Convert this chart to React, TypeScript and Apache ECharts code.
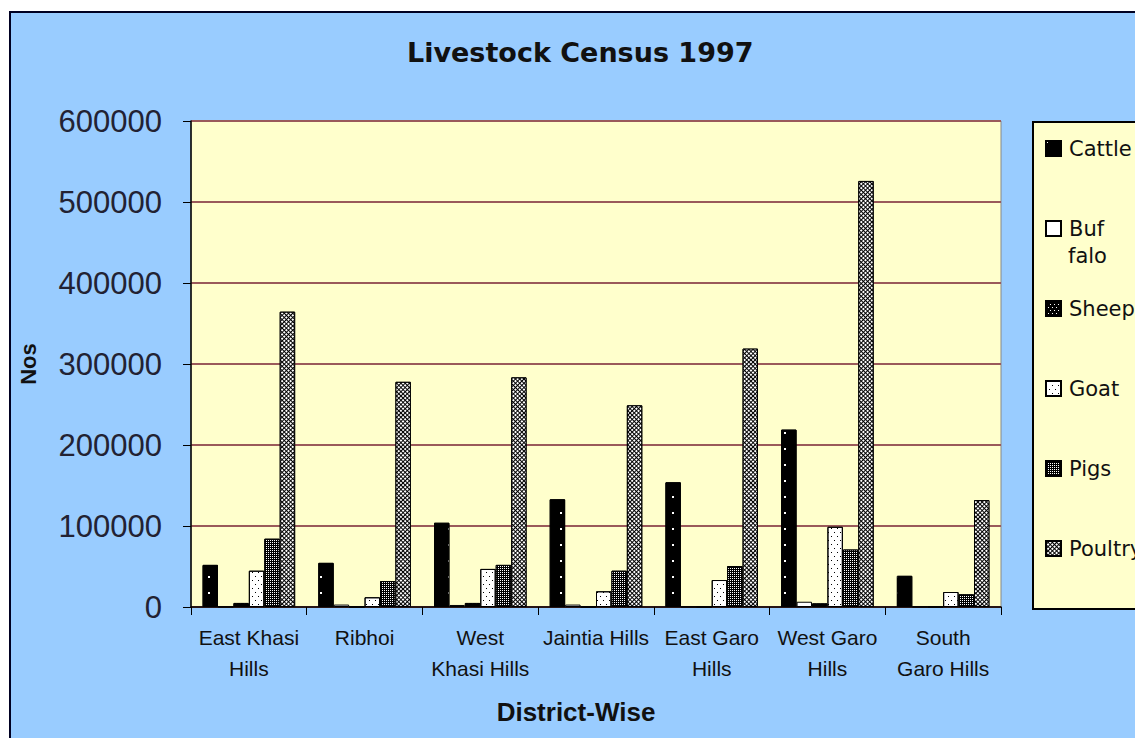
import React, { useEffect, useRef } from "react";
import * as echarts from "echarts";

const districts = [
  "East Khasi\nHills",
  "Ribhoi",
  "West\nKhasi Hills",
  "Jaintia Hills",
  "East Garo\nHills",
  "West Garo\nHills",
  "South\nGaro Hills",
];
const seriesNames = ["Cattle", "Buffalo", "Sheep", "Goat", "Pigs", "Poultry"];
const cattle = [52000, 54500, 104000, 133000, 154000, 219000, 38500];
const buffalo = [300, 3000, 2500, 3000, 300, 6500, 300];
const sheep = [5000, 300, 5000, 300, 300, 4500, 300];
const goat = [44800, 12000, 47000, 19400, 33300, 99000, 18500];
const pigs = [84300, 32000, 52000, 44800, 50600, 71000, 15700];
const poultry = [364600, 278000, 283500, 249000, 319000, 526000, 132000];
const yMin = 0;
const yMax = 600000;
const yStep = 100000;

const seriesData = [cattle, buffalo, sheep, goat, pigs, poultry];

const decals: any[] = [
  { symbol: "rect", symbolSize: 1, color: "#ffffff", dashArrayX: [2, 14], dashArrayY: [2, 14], rotation: 0 },
  null,
  { symbol: "rect", symbolSize: 1, color: "#ffffff", dashArrayX: [[1, 3], [0, 2, 1, 1]], dashArrayY: [1, 2], rotation: 0 },
  { symbol: "rect", symbolSize: 1, color: "#000000", dashArrayX: [[1, 5], [0, 3, 1, 2]], dashArrayY: [1, 3], rotation: 0 },
  { symbol: "rect", symbolSize: 1, color: "#ffffff", dashArrayX: [1, 1], dashArrayY: [1, 1], rotation: 0 },
  { symbol: "rect", symbolSize: 1, color: "#ffffff", dashArrayX: [2, 1], dashArrayY: [2, 1], rotation: Math.PI / 4 },
];
const baseColors = ["#000000", "#ffffff", "#000000", "#ffffff", "#000000", "#000000"];

export default function App() {
  const ref = useRef<HTMLDivElement>(null);
  useEffect(() => {
    if (!ref.current) return;
    const chart = echarts.init(ref.current, undefined, { renderer: "svg" });
    const series = seriesNames.map((name, i) => ({
      name,
      type: "bar",
      data: seriesData[i],
      barGap: "0%",
      barCategoryGap: "20%",
      itemStyle: {
        color: baseColors[i],
        borderColor: "#000000",
        borderWidth: 1,
        ...(decals[i] ? { decal: decals[i] } : {}),
      },
    }));
    chart.setOption({
      animation: false,
      backgroundColor: "#99CCFF",
      title: {
        text: "Livestock Census 1997",
        left: 402,
        top: 34,
        textStyle: { fontFamily: "DejaVu Sans", fontSize: 27, fontWeight: "bold", color: "#111" },
      },
      legend: {
        orient: "vertical",
        left: 1045,
        top: 138,
        padding: 0,
        icon: "rect",
        itemWidth: 15,
        itemHeight: 15,
        itemGap: 59,
        data: seriesNames,
        formatter: (n: string) => (n === "Buffalo" ? "Buf" : n),
        textStyle: { fontFamily: "DejaVu Sans", fontSize: 21, lineHeight: 15, color: "#111", padding: [0, 0, 0, 3] },
      },
      grid: {
        left: 191,
        top: 121,
        width: 810,
        height: 486,
        show: true,
        backgroundColor: "#FFFFCC",
        borderColor: "#888888",
        borderWidth: 1,
      },
      xAxis: {
        type: "category",
        data: districts,
        name: "District-Wise",
        nameLocation: "middle",
        nameGap: 92,
        nameTextStyle: { fontFamily: "Liberation Sans", fontSize: 26, fontWeight: "bold", color: "#111", padding: [0, 40, 0, 0] },
        axisLine: { lineStyle: { color: "#000", width: 1.5 } },
        axisTick: { show: true, length: 8, lineStyle: { color: "#000" } },
        axisLabel: { fontFamily: "Liberation Sans", fontSize: 21, lineHeight: 31, color: "#111", margin: 15, interval: 0 },
      },
      yAxis: {
        type: "value",
        min: yMin,
        max: yMax,
        interval: yStep,
        name: "Nos",
        nameLocation: "middle",
        nameRotate: 90,
        nameGap: 152,
        nameTextStyle: { fontFamily: "Liberation Sans", fontSize: 22, fontWeight: "bold", color: "#111" },
        axisLine: { show: true, lineStyle: { color: "#000", width: 1.5 } },
        axisTick: { show: true, length: 8, lineStyle: { color: "#000" } },
        axisLabel: { fontFamily: "Liberation Sans", fontSize: 31, color: "#222233", margin: 29, formatter: (v: number) => String(v) },
        splitLine: { show: true, lineStyle: { color: "#9a5a5a", width: 2 } },
      },
      graphic: [
        { type: "rect", shape: { x: 0, y: 0, width: 1135, height: 11 }, style: { fill: "#ffffff" }, z: 100 },
        { type: "rect", shape: { x: 0, y: 0, width: 9, height: 738 }, style: { fill: "#ffffff" }, z: 100 },
        { type: "polyline", shape: { points: [[10, 738], [10, 12], [1135, 12]] }, style: { stroke: "#000022", lineWidth: 2, fill: "none" }, z: 100 },
        { type: "rect", shape: { x: 1033, y: 122, width: 120, height: 487 }, style: { fill: "#FFFFCC", stroke: "#000000", lineWidth: 2 }, z: 0 },
        { type: "text", x: 1068, y: 256, style: { text: "falo", fontFamily: "DejaVu Sans", fontSize: 21, fill: "#111", verticalAlign: "middle" }, z: 10 },
      ],
      series,
    });
    return () => chart.dispose();
  }, []);
  return <div ref={ref} style={{ position: "fixed", left: 0, top: 0, width: 1135, height: 738 }} />;
}
